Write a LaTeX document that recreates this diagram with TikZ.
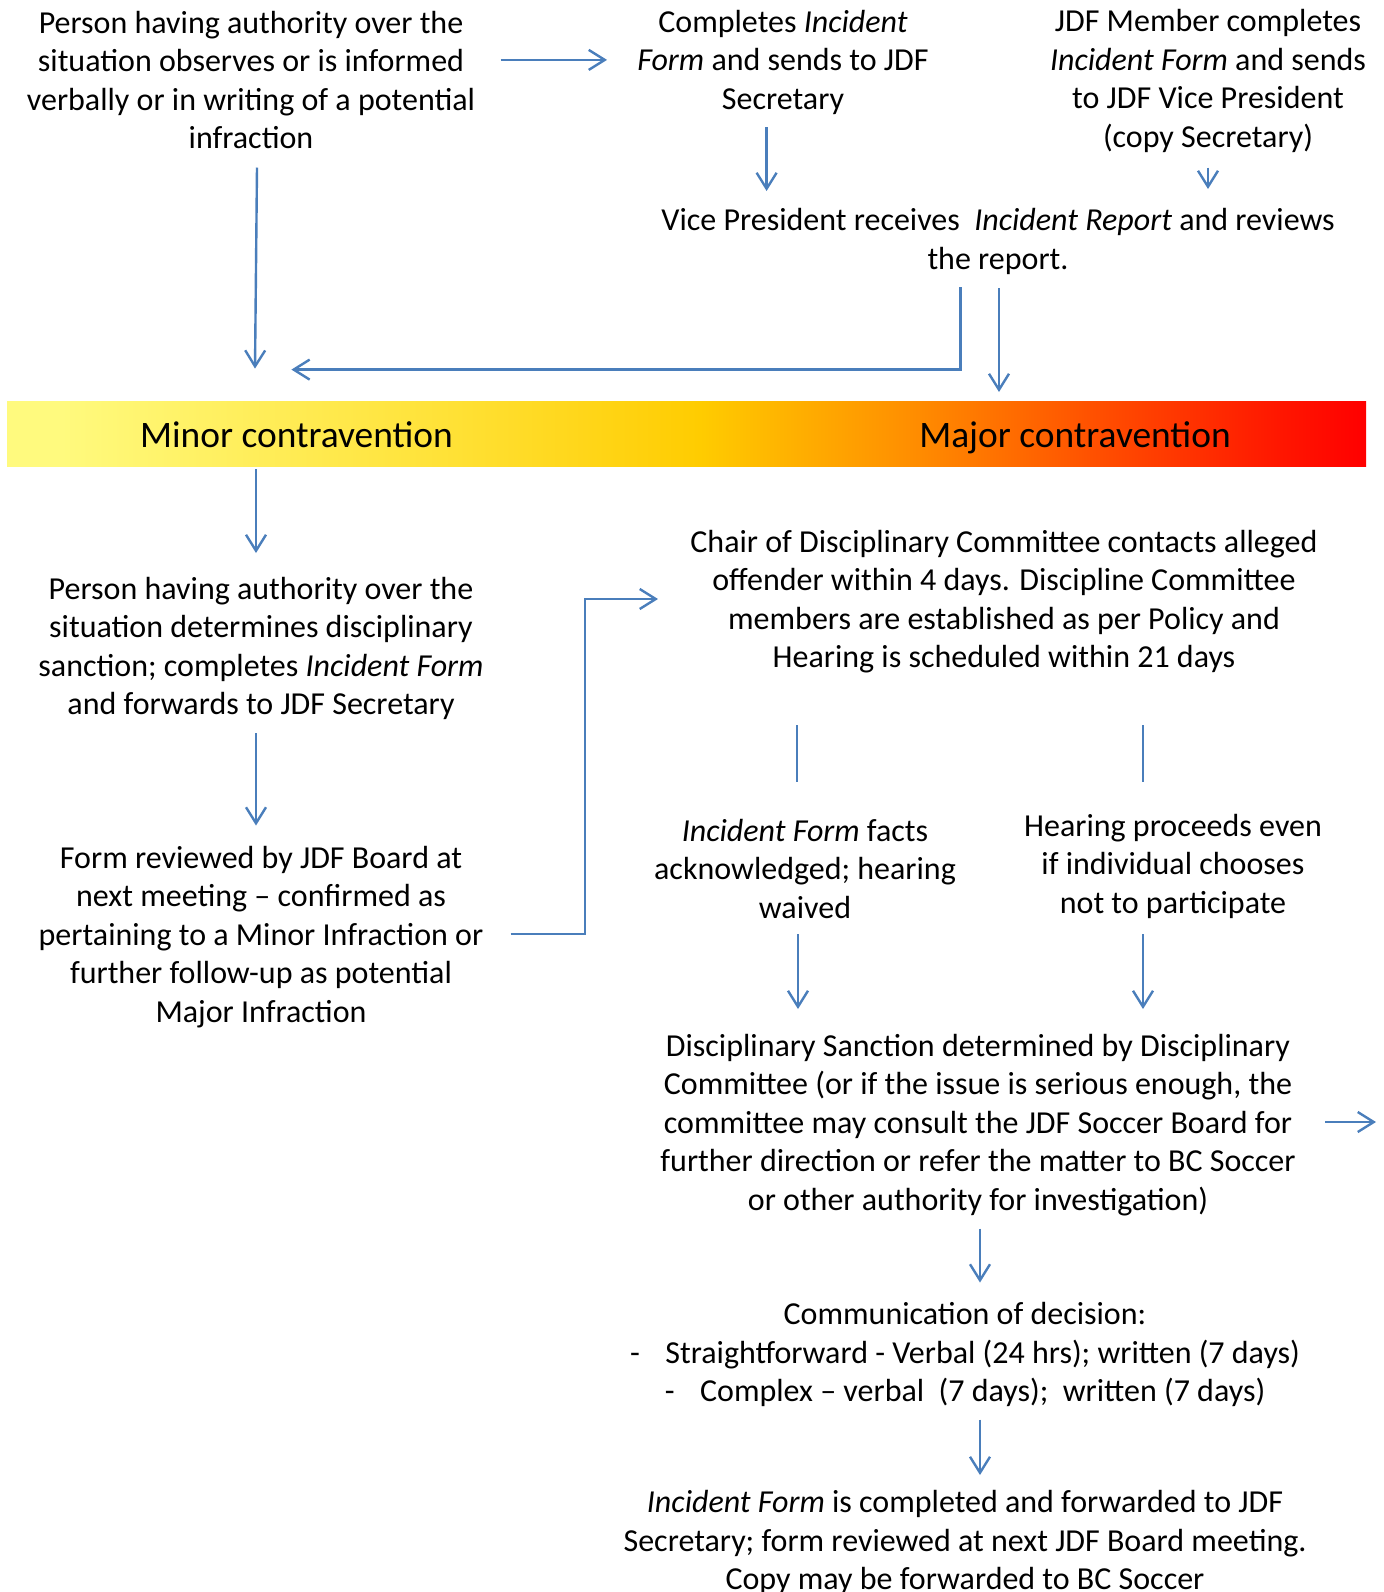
\documentclass[tikz,border=0pt]{standalone}
\usepackage{fontspec}
\setmainfont{Carlito}
\usetikzlibrary{arrows.meta,positioning}

\definecolor{flowblue}{HTML}{4A7EBB}
\definecolor{barA}{HTML}{FFFA7E}
\definecolor{barB}{HTML}{FFE135}
\definecolor{barC}{HTML}{FFCC00}
\definecolor{barD}{HTML}{FFB000}
\definecolor{barE}{HTML}{FF8C00}
\definecolor{barF}{HTML}{FF5000}
\definecolor{barG}{HTML}{FF1500}
\definecolor{barH}{HTML}{FF0000}
\pgfdeclarehorizontalshading{contrashade}{100bp}{color(0bp)=(barA); color(27bp)=(barA);
  color(41.5bp)=(barB); color(50.5bp)=(barC); color(54bp)=(barD); color(58.5bp)=(barE);
  color(65bp)=(barF); color(72bp)=(barG); color(75bp)=(barH); color(100bp)=(barH)}

\begin{document}
\begin{tikzpicture}[x=0.5pt,y=-0.5pt,
    txt/.style={align=center,inner sep=0pt,font=\fontsize{16}{19.25}\selectfont},
    bartxt/.style={inner sep=0pt,anchor=base,font=\fontsize{18.7}{22}\selectfont},
    flow/.style={draw=flowblue,line width=1.2pt,-{Straight Barb[length=8pt,width=10pt]}},
    link/.style={draw=flowblue,line width=1.2pt}]
    \useasboundingbox (0,0) rectangle (1383,1592);

    % Reporting
    \node[txt] (observe) at (251,80) {Person having authority over the\\situation observes or is informed\\verbally or in writing of a potential\\infraction};
    \node[txt] (sends) at (783,62) {Completes \textit{Incident}\\\textit{Form} and sends to JDF\\Secretary};
    \node[txt] (member) at (1208,81) {JDF Member completes\\\textit{Incident Form} and sends\\to JDF Vice President\\(copy Secretary)};
    \node[txt] (vp) at (998,241.5) {Vice President receives\ \ \textit{Incident Report} and reviews\\the report.};

    % Severity bar
    \shade[shading=contrashade] (7,401) rectangle (1366,466);
    \node[bartxt] (minor) at (296.5,447) {Minor contravention};
    \node[bartxt] (major) at (1075,447) {Major contravention};

    % Minor branch
    \node[txt] (determine) at (261,648.5) {Person having authority over the\\situation determines disciplinary\\sanction; completes \textit{Incident Form}\\and forwards to JDF Secretary};
    \node[txt] (board) at (261,937) {Form reviewed by JDF Board at\\next meeting -- confirmed as\\pertaining to a Minor Infraction or\\further follow-up as potential\\Major Infraction};

    % Major branch
    \node[txt] (chair) at (1004,601.5) {Chair of Disciplinary Committee contacts alleged\\offender within 4 days. Discipline Committee\\members are established as per Policy and\\Hearing is scheduled within 21 days};
    \node[txt] (waived) at (805,868.5) {\textit{Incident Form} facts\\acknowledged; hearing\\waived};
    \node[txt] (proceeds) at (1173,866) {Hearing proceeds even\\if individual chooses\\not to participate};
    \node[txt] (sanction) at (978,1125) {Disciplinary Sanction determined by Disciplinary\\Committee (or if the issue is serious enough, the\\committee may consult the JDF Soccer Board for\\further direction or refer the matter to BC Soccer\\or other authority for investigation)};
    \node[txt] (decision) at (965,1354.5) {Communication of decision:\\-\hspace{0.8em}Straightforward - Verbal (24 hrs); written (7 days)\\-\hspace{0.8em}Complex -- verbal\ \ (7 days);\ \ written (7 days)};
    \node[txt] (final) at (965,1542.5) {\textit{Incident Form} is completed and forwarded to JDF\\Secretary; form reviewed at next JDF Board meeting.\\Copy may be forwarded to BC Soccer};

    % Connector ends
    \coordinate (observeR) at (500.6,59.9);
    \coordinate (sendsL) at (607,59.9);
    \coordinate (sendsB) at (766.6,127);
    \coordinate (vpT1) at (766.6,191);
    \coordinate (memberB) at (1208,167.5);
    \coordinate (vpT2) at (1208,189);
    \coordinate (observeB) at (257,167.5);
    \coordinate (minorT) at (255,368.6);
    \coordinate (vpB1) at (960.6,287);
    \coordinate (minorT2) at (291.4,369.6);
    \coordinate (vpB2) at (999,288);
    \coordinate (majorT) at (999,392);
    \coordinate (minorB) at (256,469);
    \coordinate (determineT) at (256,553);
    \coordinate (determineB) at (256,733);
    \coordinate (boardT) at (256,825.5);
    \coordinate (boardR) at (510.7,934);
    \coordinate (chairL) at (658,599);
    \coordinate (chairB1) at (797,725);
    \coordinate (waivedT) at (797,782);
    \coordinate (chairB2) at (1143,725);
    \coordinate (proceedsT) at (1143,782);
    \coordinate (waivedB) at (798,934);
    \coordinate (sanctionT1) at (798,1009);
    \coordinate (proceedsB) at (1143,934);
    \coordinate (sanctionT2) at (1143,1009);
    \coordinate (sanctionR) at (1325,1122);
    \coordinate (onward) at (1376,1122);
    \coordinate (sanctionB) at (980,1228.6);
    \coordinate (decisionT) at (980,1282.5);
    \coordinate (decisionB) at (980,1419.5);
    \coordinate (finalT) at (980,1475);

    % Arrows
    \draw[flow] (observeR) -- (sendsL);
    \draw[flow] (sendsB) -- (vpT1);
    \draw[flow] (memberB) -- (vpT2);
    \draw[flow] (observeB) -- (minorT);
    \draw[flow] (vpB1) |- (minorT2);
    \draw[flow] (vpB2) -- (majorT);
    \draw[flow] (minorB) -- (determineT);
    \draw[flow] (determineB) -- (boardT);
    \draw[flow] (boardR) -- ++(74.3,0) |- (chairL);
    \draw[link] (chairB1) -- (waivedT);
    \draw[link] (chairB2) -- (proceedsT);
    \draw[flow] (waivedB) -- (sanctionT1);
    \draw[flow] (proceedsB) -- (sanctionT2);
    \draw[flow] (sanctionR) -- (onward);
    \draw[flow] (sanctionB) -- (decisionT);
    \draw[flow] (decisionB) -- (finalT);
\end{tikzpicture}
\end{document}
